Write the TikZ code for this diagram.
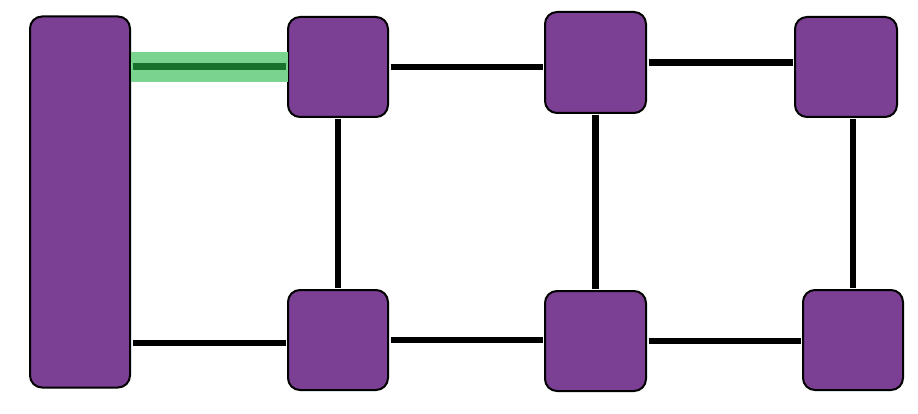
\documentclass[tikz,border=0pt]{standalone}
\definecolor{boxpurple}{RGB}{123,63,148}
\definecolor{lightgreen}{RGB}{122,211,142}
\definecolor{darkgreen}{RGB}{24,114,44}
\tikzset{
  box/.style={draw=black, line width=2pt, fill=boxpurple, rounded corners=12pt, inner sep=0pt, outer sep=0pt},
  sq/.style={box, minimum width=100pt, minimum height=100pt},
  link/.style={line width=6.5pt, black, shorten <=2.5pt, shorten >=2.5pt},
  band/.style={line width=30pt, lightgreen},
  bandcore/.style={line width=7pt, darkgreen}
}
\begin{document}
\begin{tikzpicture}[x=1pt,y=-1pt]
\useasboundingbox (0,0) rectangle (918,414);
\node[box, minimum width=100pt, minimum height=371pt] (big) at (80,202) {};
\node[sq] (A) at (338,67) {};
\node[sq, minimum width=101pt, minimum height=101pt] (B) at (595.5,62.5) {};
\node[sq, minimum width=102pt] (C) at (846,67) {};
\node[sq] (D) at (338,340) {};
\node[sq, minimum width=101pt] (E) at (595.5,341) {};
\node[sq] (F) at (853,340) {};
% green highlighted link
\draw[band] ([xshift=1pt]big.east |- A.west) -- (A.west);
\draw[bandcore] ([xshift=3pt]big.east |- A.west) -- ([xshift=-2pt]A.west);
% black links
\draw[link] (A.east) -- (A.east -| B.west);
\draw[link] (B.east) -- (B.east -| C.west);
\draw[link] (A) -- (D);
\draw[link] (B) -- (E);
\draw[link] (C.south -| F.north) -- (F.north);
\coordinate (d1) at ([yshift=-3pt]D.west);
\draw[link] (big.east |- d1) -- (d1);
\draw[link] (D.east) -- (D.east -| E.west);
\draw[link] (E.east) -- (E.east -| F.west);
\end{tikzpicture}
\end{document}
